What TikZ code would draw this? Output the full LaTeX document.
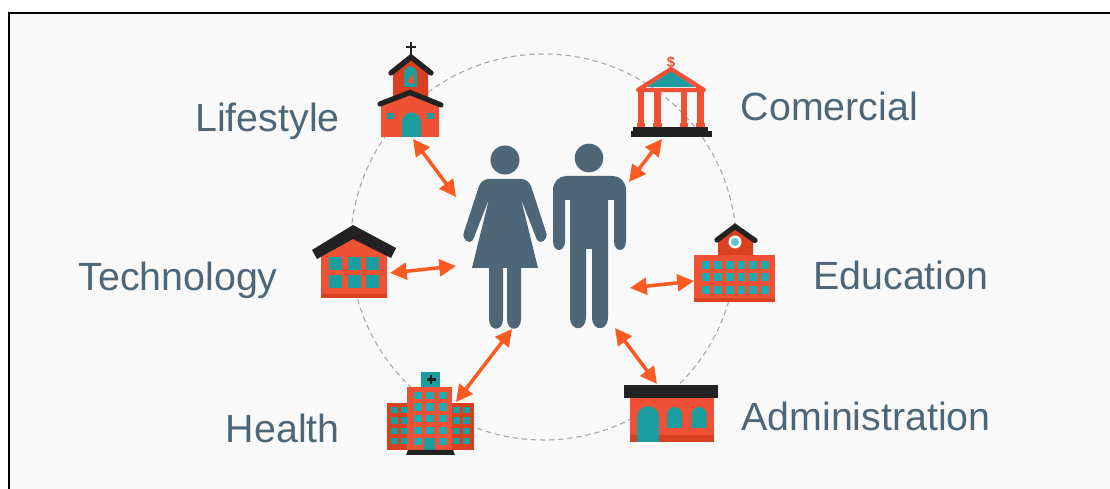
\documentclass[tikz,border=0pt]{standalone}
\usepackage{fontspec}
\setmainfont{Liberation Sans}
\usetikzlibrary{arrows.meta}
\definecolor{brick}{HTML}{F05033}
\definecolor{brickd}{HTML}{D9401F}
\definecolor{tealw}{HTML}{1B9DA0}
\definecolor{teall}{HTML}{20ABB0}
\definecolor{roof}{HTML}{222222}
\definecolor{slate}{HTML}{4E6778}
\definecolor{paper}{HTML}{F9F9F9}
\definecolor{arrowc}{HTML}{FB5A22}
\tikzset{
  x=0.02cm,y=-0.02cm,
  lab/.style={text=slate,font=\fontsize{22.4pt}{26pt}\selectfont,inner sep=0pt},
  link/.style={arrowc,line width=2pt,{Triangle[length=9.5pt,width=9.5pt]}-{Triangle[length=9.5pt,width=9.5pt]}},
  roofl/.style={roof,line width=3pt,line cap=round,line join=miter},
  person/.style={fill=slate,draw=none},
  win/.style={fill=tealw,draw=none},
  winl/.style={fill=teall,draw=none},
  pt/.style={inner sep=0pt,minimum size=0pt}
}
\begin{document}
\begin{tikzpicture}
\useasboundingbox (0,0) rectangle (1110,489);
\fill[white] (0,0) rectangle (1110,489);
\fill[paper] (9,13) rectangle (1110,489);
\draw[black,line width=1.3pt] (9,489) -- (9,13) -- (1110,13);
\draw[gray!70,line width=0.6pt,dash pattern=on 3pt off 2.2pt] (543.5,247) circle [radius=193];

% Church
\fill[brickd] (393,72) -- (411,60) -- (428,72) -- (428,100) -- (393,100) -- cycle;
\fill[tealw] (404,73) arc (180:360:6.5) -- (417,87) -- (404,87) -- cycle;
\fill[brick] (407,82) -- (413,74) -- (414,84) -- cycle;
\draw[roofl] (391,73) -- (411,57) -- (431,73);
\draw[roof,line width=1.4pt] (411,42) -- (411,56) (406,47) -- (416,47);
\fill[brick] (381,104) -- (411,94) -- (439,104) -- (439,137) -- (381,137) -- cycle;
\draw[roofl] (380,104) -- (410,92.5) -- (441,105);
\fill[tealw] (402,137) -- (402,122) arc (180:360:9.5) -- (421,137) -- cycle;
\fill[tealw] (387,113) rectangle (393.5,119.5);
\fill[tealw] (427,113) rectangle (433.5,119.5);

% Bank
\fill[tealw] (647,87) -- (671,71) -- (695,87) -- cycle;
\draw[brick,line width=2.4pt,line join=round,line cap=round] (638,90) -- (671,69) -- (704,90) -- cycle;
\foreach \c in {641,657.5,684,700.5}{
  \fill[brick] (\c-3.4,90) rectangle (\c+3.4,123);
  \fill[brick] (\c-4.4,123) rectangle (\c+4.4,128);
}
\fill[roof] (633,127) rectangle (708,132);
\fill[roof] (631,131) rectangle (712,137);
\node[pt,text=brick,font=\fontsize{8.5pt}{9pt}\selectfont\bfseries] (dollar) at (671,62.5) {\$};

% Technology building
\fill[brick] (321,245) -- (354,237) -- (387,245) -- (387,298) -- (321,298) -- cycle;
\fill[brickd] (321,294) rectangle (387,298);
\foreach \x in {329,347.5,366}\foreach \y in {257,275}{\fill[win] (\x,\y) rectangle +(13,13);}
\fill[roof] (312,250) -- (353,225) -- (396,248) -- (391,258) -- (353,239) -- (317,259) -- cycle;

% Education
\fill[brickd] (718,240) -- (735,229) -- (753,240) -- (753,258) -- (718,258) -- cycle;
\draw[roofl] (717,240) -- (735,226.5) -- (755,240.5);
\fill[white] (735,242) circle [radius=6.5];
\fill[teall!70] (735,242) circle [radius=4];
\fill[brick] (694,255) rectangle (775,302);
\fill[brickd] (694,298) rectangle (775,302);
\foreach \x in {702,714,726,737.5,749,761}\foreach \y in {261,273.5,286}{\fill[winl] (\x,\y) rectangle +(7.7,7.7);}

% Health
\fill[tealw] (421,372) rectangle (440,387);
\draw[roof,line width=1.3pt] (431,375) -- (431,384) (426.5,379.5) -- (435.5,379.5);
\fill[brickd] (387,403) rectangle (474,450);
\fill[brick] (407,387) rectangle (452,450);
\foreach \x in {414,426,439}\foreach \y in {392,403.5,415,427}{\fill[winl] (\x,\y) rectangle +(7.7,7.5);}
\foreach \x in {414,439}{\fill[winl] (\x,438) rectangle +(7.7,7.5);}
\fill[tealw] (424,438) rectangle (435,450);
\foreach \x in {391,401,453,463}\foreach \y in {407,417.5,428,438}{\fill[win] (\x,\y) rectangle +(6.5,6.5);}
\fill[roof] (406,455) -- (408,450) -- (453,450) -- (455,455) -- cycle;

% Administration
\fill[brick] (630,397) rectangle (714,442);
\fill[brickd] (630,435) rectangle (714,442);
\fill[tealw] (637,442) -- (637,417) arc (180:360:11) -- (659,442) -- cycle;
\fill[tealw] (667,428) -- (667,414.5) arc (180:360:7.5) -- (682,428) -- cycle;
\fill[tealw] (691.5,428) -- (691.5,414.5) arc (180:360:7.5) -- (706.5,428) -- cycle;
\fill[roof] (624,385) rectangle (718,398);

% Woman
\fill[person] (505,160) circle [radius=14.5];
\fill[person] (489,179) -- (521,179) .. controls (526,179) and (529,182) .. (531,186) -- (546,232) .. controls (549,240) and (540,245) .. (537,240) -- (521,199) -- (538,268) -- (521,268) -- (521,319) .. controls (521,332) and (507,332) .. (507,319) -- (507,268) -- (503,268) -- (503,319) .. controls (503,332) and (489,332) .. (489,319) -- (489,268) -- (472,268) -- (489,199) -- (473,240) .. controls (470,245) and (461,240) .. (464,232) -- (479,186) .. controls (481,182) and (484,179) .. (489,179) -- cycle;

% Man
\fill[person] (589,158) circle [radius=14.3];
\fill[person] (566,176) -- (613,176) .. controls (620,176) and (626,182) .. (626,190) -- (626,241) .. controls (626,253) and (614,253) .. (614,241) -- (614,200) -- (608,200) -- (608,317) .. controls (608,332) and (592,332) .. (592,317) -- (592,249) -- (586,249) -- (586,317) .. controls (586,332) and (570,332) .. (570,317) -- (570,200) -- (565,200) -- (565,241) .. controls (565,253) and (553,253) .. (553,241) -- (553,190) .. controls (553,182) and (559,176) .. (566,176) -- cycle;

% Labels
\node[lab,anchor=base east] (lLife) at (340,132) {Lifestyle};
\node[lab,anchor=base west] (lCom) at (740.5,120.5) {Comercial};
\node[lab,anchor=base east] (lTech) at (278,291) {Technology};
\node[lab,anchor=base west] (lEdu) at (813,290) {Education};
\node[lab,anchor=base east] (lHealth) at (340,443) {Health};
\node[lab,anchor=base west] (lAdm) at (741,431) {Administration};

% Connector ends
\coordinate (a1) at (413,139); \coordinate (b1) at (456,197);
\coordinate (a2) at (662,139); \coordinate (b2) at (629,182);
\coordinate (a3) at (390,273); \coordinate (b3) at (456,266);
\coordinate (a4) at (694,281); \coordinate (b4) at (630,288);
\coordinate (a5) at (456,402); \coordinate (b5) at (512,329);
\coordinate (a6) at (657,384); \coordinate (b6) at (615,328);
\foreach \i in {1,...,6}{\draw[link] (a\i) -- (b\i);}
\end{tikzpicture}
\end{document}
